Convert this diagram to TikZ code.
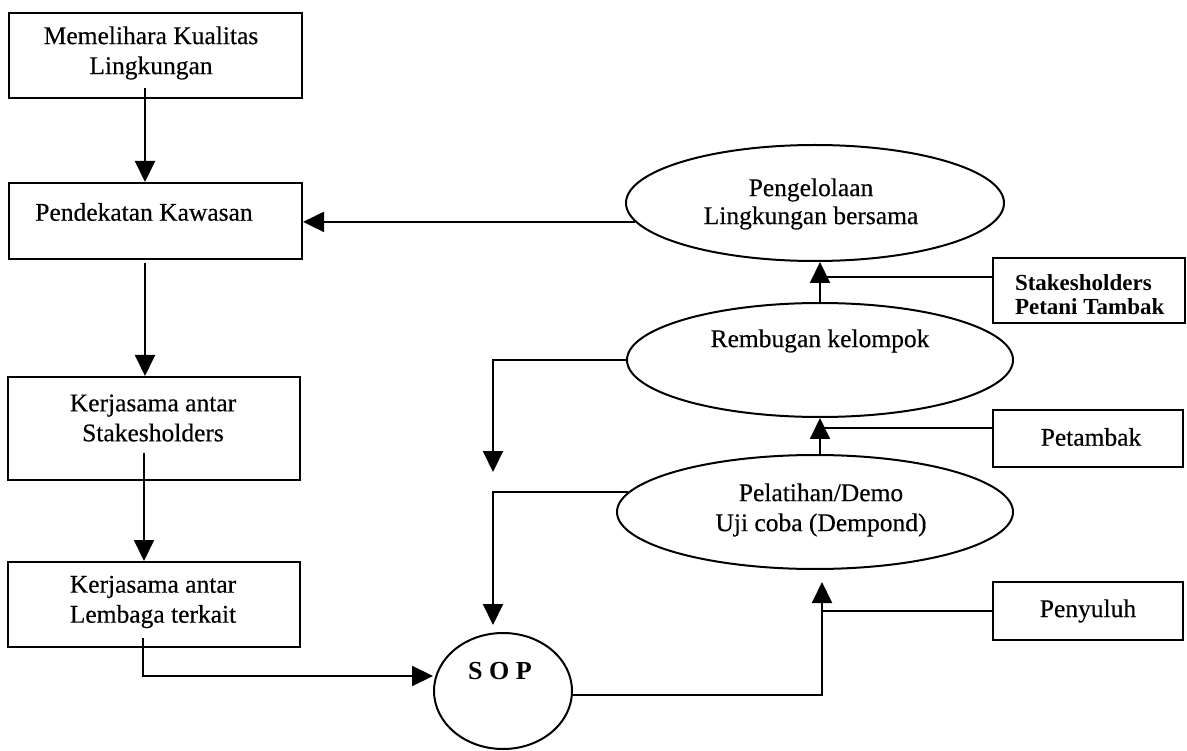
\documentclass[tikz,border=0pt]{standalone}
\usepackage{fontspec}
\setmainfont{Liberation Serif}
\newfontfamily\inkfont[FakeBold=0.35]{Liberation Serif}
\usetikzlibrary{arrows.meta,shapes.geometric,calc}

\begin{document}
\begin{tikzpicture}[x=1pt,y=-1pt,
  line width=2pt,
  box/.style={draw, rectangle, inner sep=0pt},
  oval/.style={draw, ellipse, inner sep=0pt},
  lbl/.style={font=\inkfont\fontsize{25.5}{30}\selectfont, align=center, inner sep=0pt},
  arr/.style={-{Triangle[length=21pt,width=20pt]}},
  plain/.style={-}]

\useasboundingbox (0,0) rectangle (1187,751);

% left column of boxes
\node[box, minimum width=293pt, minimum height=85pt]  (b1) at (155.5,55.5) {};
\node[box, minimum width=293pt, minimum height=76pt]  (b2) at (155.5,221) {};
\node[box, minimum width=292pt, minimum height=103pt] (b3) at (154,428.5) {};
\node[box, minimum width=292pt, minimum height=85pt]  (b4) at (154,604.5) {};

\node[lbl] (t1) at (151,53)  {Memelihara Kualitas\\Lingkungan};
\node[lbl] (t2) at (144,212) {Pendekatan Kawasan};
\node[lbl] (t3) at (153,418) {Kerjasama antar\\Stakesholders};
\node[lbl] (t4) at (153,602) {Kerjasama antar\\Lembaga terkait};

% right column: activities
\node[oval, minimum width=378pt, minimum height=116pt] (e1) at (815,203) {};
\node[oval, minimum width=386pt, minimum height=114pt] (e2) at (820,360) {};
\node[oval, minimum width=396pt, minimum height=114pt] (e3) at (815,512) {};
\node[oval, minimum width=138pt, minimum height=116pt] (sop) at (503,691) {};

\node[lbl, font=\inkfont\fontsize{25.5}{28}\selectfont] (te1) at (811,204) {Pengelolaan\\Lingkungan bersama};
\node[lbl] (te2) at (820,341) {Rembugan kelompok};
\node[lbl] (te3) at (821,510) {Pelatihan/Demo\\Uji coba (Dempond)};
\node[lbl, font=\fontsize{26}{30}\selectfont\bfseries] (tsop) at (500,671) {S O P};

% actors on the far right
\node[box, minimum width=192pt, minimum height=65pt] (sh) at (1089,290.5) {};
\node[box, minimum width=190pt, minimum height=57pt] (pt) at (1088,438.5) {};
\node[box, minimum width=190pt, minimum height=58pt] (py) at (1088,611) {};

\node[lbl, font=\fontsize{23}{24}\selectfont\bfseries, align=left, anchor=west] (tsh) at (1014,295) {Stakesholders\\Petani Tambak};
\node[lbl] (tpt) at (1091,437) {Petambak};
\node[lbl] (tpy) at (1088,611) {Penyuluh};

% free ends of the connectors
\coordinate (s1) at (145,88);
\coordinate (s2) at (145,263);
\coordinate (s3) at (144,453);
\coordinate (s4) at (143,638);
\coordinate (j4) at (143,676);
\coordinate (d1) at (493,472);
\coordinate (d2) at (493,625);
\coordinate (d3) at (822,582);

% left column flow
\draw[arr] (s1) -- (s1 |- b2.north);
\draw[arr] (s2) -- (s2 |- b3.north);
\draw[arr] (s3) -- (s3 |- b4.north);
\draw[arr] (s4) -- (j4) -- (j4 -| sop.west);

% feedback to the approach box
\draw[arr] (e1.186) -- (e1.186 -| b2.east);

% loops down towards SOP
\draw[arr] (e2.west) -- (e2.west -| d1) -- (d1);
\draw[arr] (e3.174) -- (e3.174 -| d2) -- (d2);

% SOP to training
\draw[arr] (sop.-3) -- (sop.-3 -| d3) -- (d3);
\draw[plain] (py.west) -- (py.west -| d3);

% upward chain of activities
\draw[arr] (e2.south |- e3.north) -- (e2.south);
\draw[plain] ([yshift=10pt]pt.west) -- ([yshift=10pt]pt.west -| e2.south);
\draw[arr] (e2.north) -- (e2.north |- e1.south);
\draw[plain] ([yshift=13.5pt]sh.west) -- ([yshift=13.5pt]sh.west -| e2.north);

\end{tikzpicture}
\end{document}
